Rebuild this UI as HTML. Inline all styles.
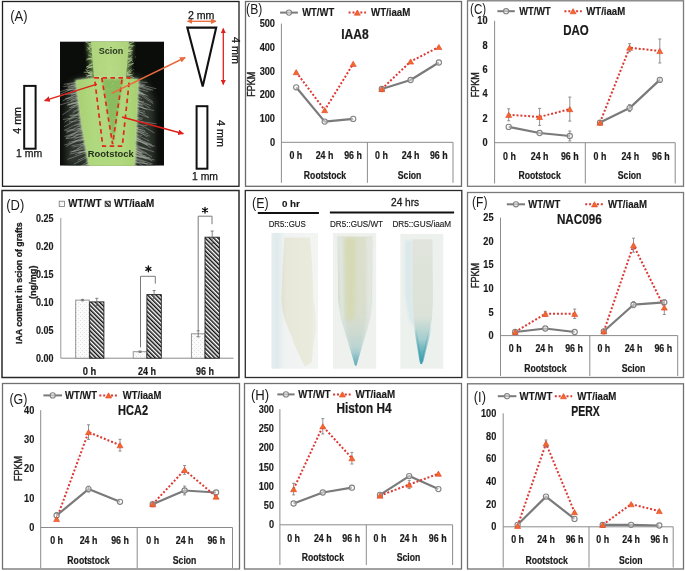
<!DOCTYPE html>
<html><head><meta charset="utf-8"><style>
html,body{margin:0;padding:0;background:#fff;}
body{width:685px;height:571px;overflow:hidden;font-family:"Liberation Sans", sans-serif;}
svg{display:block;will-change:transform;}
</style></head><body>
<svg width="685" height="571" viewBox="0 0 685 571" font-family='"Liberation Sans", sans-serif'>
<rect width="685" height="571" fill="#fff"/>
<rect x="2.5" y="1.5" width="236.5" height="184.8" stroke="#1e1e1e" stroke-width="1.3" fill="none" />
<rect x="245.5" y="1.5" width="216" height="184.8" stroke="#6a6a6a" stroke-width="1.3" fill="none" />
<rect x="467.5" y="0.8" width="216" height="185.5" stroke="#7a7a7a" stroke-width="1.3" fill="none" />
<rect x="2" y="190.5" width="237" height="187" stroke="#2a2a2a" stroke-width="1.5" fill="none" />
<rect x="245.3" y="190.5" width="216.5" height="187" stroke="#2a2a2a" stroke-width="1.3" fill="none" />
<rect x="467.5" y="192.5" width="216" height="185" stroke="#7a7a7a" stroke-width="1.3" fill="none" />
<rect x="2.5" y="383.5" width="237" height="185.5" stroke="#707070" stroke-width="1.3" fill="none" />
<rect x="244.5" y="383.5" width="217" height="185.5" stroke="#707070" stroke-width="1.3" fill="none" />
<rect x="467.5" y="383.8" width="216" height="185.2" stroke="#707070" stroke-width="1.3" fill="none" />
<line x1="281.4" y1="23.6" x2="281.4" y2="182.8" stroke="#8c8c8c" stroke-width="1" />
<line x1="281.4" y1="142.3" x2="453" y2="142.3" stroke="#8a8a8a" stroke-width="1" />
<line x1="367.4" y1="142.3" x2="367.4" y2="182.8" stroke="#8c8c8c" stroke-width="1" />
<line x1="453" y1="142.3" x2="453" y2="182.8" stroke="#8c8c8c" stroke-width="1" />
<text x="275.0" y="145.8" font-size="10" font-weight="bold" text-anchor="end" fill="#1a1a1a" textLength="5.12" lengthAdjust="spacingAndGlyphs"  stroke="#1a1a1a" stroke-width="0.15">0</text>
<text x="275.0" y="122.1" font-size="10" font-weight="bold" text-anchor="end" fill="#1a1a1a" textLength="15.35" lengthAdjust="spacingAndGlyphs"  stroke="#1a1a1a" stroke-width="0.15">100</text>
<text x="275.0" y="98.3" font-size="10" font-weight="bold" text-anchor="end" fill="#1a1a1a" textLength="15.35" lengthAdjust="spacingAndGlyphs"  stroke="#1a1a1a" stroke-width="0.15">200</text>
<text x="275.0" y="74.6" font-size="10" font-weight="bold" text-anchor="end" fill="#1a1a1a" textLength="15.35" lengthAdjust="spacingAndGlyphs"  stroke="#1a1a1a" stroke-width="0.15">300</text>
<text x="275.0" y="50.8" font-size="10" font-weight="bold" text-anchor="end" fill="#1a1a1a" textLength="15.35" lengthAdjust="spacingAndGlyphs"  stroke="#1a1a1a" stroke-width="0.15">400</text>
<text x="275.0" y="27.1" font-size="10" font-weight="bold" text-anchor="end" fill="#1a1a1a" textLength="15.35" lengthAdjust="spacingAndGlyphs"  stroke="#1a1a1a" stroke-width="0.15">500</text>
<text x="295.8" y="159.2" font-size="10.3" font-weight="bold" text-anchor="middle" fill="#1a1a1a" textLength="12.8" lengthAdjust="spacingAndGlyphs"  stroke="#1a1a1a" stroke-width="0.2">0 h</text>
<text x="324.5" y="159.2" font-size="10.3" font-weight="bold" text-anchor="middle" fill="#1a1a1a" textLength="17.72" lengthAdjust="spacingAndGlyphs"  stroke="#1a1a1a" stroke-width="0.2">24 h</text>
<text x="353.0" y="159.2" font-size="10.3" font-weight="bold" text-anchor="middle" fill="#1a1a1a" textLength="17.72" lengthAdjust="spacingAndGlyphs"  stroke="#1a1a1a" stroke-width="0.2">96 h</text>
<text x="381.4" y="159.2" font-size="10.3" font-weight="bold" text-anchor="middle" fill="#1a1a1a" textLength="12.8" lengthAdjust="spacingAndGlyphs"  stroke="#1a1a1a" stroke-width="0.2">0 h</text>
<text x="410.6" y="159.2" font-size="10.3" font-weight="bold" text-anchor="middle" fill="#1a1a1a" textLength="17.72" lengthAdjust="spacingAndGlyphs"  stroke="#1a1a1a" stroke-width="0.2">24 h</text>
<text x="438.8" y="159.2" font-size="10.3" font-weight="bold" text-anchor="middle" fill="#1a1a1a" textLength="17.72" lengthAdjust="spacingAndGlyphs"  stroke="#1a1a1a" stroke-width="0.2">96 h</text>
<text x="325.0" y="179.1" font-size="10.3" font-weight="bold" text-anchor="middle" fill="#1a1a1a" textLength="42.3" lengthAdjust="spacingAndGlyphs"  stroke="#1a1a1a" stroke-width="0.2">Rootstock</text>
<text x="409.6" y="179.1" font-size="10.3" font-weight="bold" text-anchor="middle" fill="#1a1a1a" textLength="23.56" lengthAdjust="spacingAndGlyphs"  stroke="#1a1a1a" stroke-width="0.2">Scion</text>
<text x="354.9" y="38.6" font-size="14" font-weight="bold" text-anchor="middle" fill="#1a1a1a" textLength="27.5" lengthAdjust="spacingAndGlyphs"  stroke="#1a1a1a" stroke-width="0.2">IAA8</text>
<text x="255.0" y="84.3" font-size="10" font-weight="normal" text-anchor="middle" fill="#1a1a1a" textLength="25" lengthAdjust="spacingAndGlyphs" transform="rotate(-90 255.0 84.3)"  stroke="#1a1a1a" stroke-width="0.35">FPKM</text>
<text x="246.1" y="14.0" font-size="14" font-weight="normal" text-anchor="start" fill="#1a1a1a" textLength="16.2" lengthAdjust="spacingAndGlyphs" >(B)</text>
<line x1="280.1" y1="12.6" x2="297.9" y2="12.6" stroke="#7a7a7a" stroke-width="2" />
<circle cx="289.0" cy="12.6" r="2.6" fill="#ffffff" fill-opacity="0.45" stroke="#828282" stroke-width="1.1"/>
<text x="302.2" y="16.1" font-size="10" font-weight="bold" text-anchor="start" fill="#1a1a1a" textLength="32" lengthAdjust="spacingAndGlyphs"  stroke="#1a1a1a" stroke-width="0.15">WT/WT</text>
<line x1="348.6" y1="12.6" x2="366" y2="12.6" stroke="#dc3a34" stroke-width="2" stroke-dasharray="2 1.9"/>
<path d="M354.3 15.2 L357.3 10.0 L360.3 15.2 Z" fill="#f26a2a" stroke="#e0402a" stroke-width="0.6"/>
<text x="371.0" y="16.1" font-size="10" font-weight="bold" text-anchor="start" fill="#1a1a1a" textLength="39.3" lengthAdjust="spacingAndGlyphs"  stroke="#1a1a1a" stroke-width="0.15">WT/iaaM</text>
<polyline points="296.2,87.3 324.7,121.6 353.2,118.9" fill="none" stroke="#7a7a7a" stroke-width="2.2" stroke-linejoin="round"/>
<polyline points="381.8,89 410.6,80 438.9,62.5" fill="none" stroke="#7a7a7a" stroke-width="2.2" stroke-linejoin="round"/>
<polyline points="296.2,72.2 324.7,110.1 353.2,63.8" fill="none" stroke="#dc3a34" stroke-width="2" stroke-dasharray="2 1.9"/>
<polyline points="381.8,89 410.6,61.5 438.9,47" fill="none" stroke="#dc3a34" stroke-width="2" stroke-dasharray="2 1.9"/>
<circle cx="296.2" cy="87.3" r="2.6" fill="#ffffff" fill-opacity="0.45" stroke="#828282" stroke-width="1.1"/>
<circle cx="324.7" cy="121.6" r="2.6" fill="#ffffff" fill-opacity="0.45" stroke="#828282" stroke-width="1.1"/>
<circle cx="353.2" cy="118.9" r="2.6" fill="#ffffff" fill-opacity="0.45" stroke="#828282" stroke-width="1.1"/>
<circle cx="381.8" cy="89" r="2.6" fill="#ffffff" fill-opacity="0.45" stroke="#828282" stroke-width="1.1"/>
<circle cx="410.6" cy="80" r="2.6" fill="#ffffff" fill-opacity="0.45" stroke="#828282" stroke-width="1.1"/>
<circle cx="438.9" cy="62.5" r="2.6" fill="#ffffff" fill-opacity="0.45" stroke="#828282" stroke-width="1.1"/>
<path d="M293.2 74.8 L296.2 69.6 L299.2 74.8 Z" fill="#f26a2a" stroke="#e0402a" stroke-width="0.6"/>
<path d="M321.7 112.7 L324.7 107.5 L327.7 112.7 Z" fill="#f26a2a" stroke="#e0402a" stroke-width="0.6"/>
<path d="M350.2 66.4 L353.2 61.2 L356.2 66.4 Z" fill="#f26a2a" stroke="#e0402a" stroke-width="0.6"/>
<path d="M378.8 91.6 L381.8 86.4 L384.8 91.6 Z" fill="#f26a2a" stroke="#e0402a" stroke-width="0.6"/>
<path d="M407.6 64.1 L410.6 58.9 L413.6 64.1 Z" fill="#f26a2a" stroke="#e0402a" stroke-width="0.6"/>
<path d="M435.9 49.6 L438.9 44.4 L441.9 49.6 Z" fill="#f26a2a" stroke="#e0402a" stroke-width="0.6"/>
<line x1="494.6" y1="20.8" x2="494.6" y2="183.5" stroke="#8c8c8c" stroke-width="1" />
<line x1="494.6" y1="142.7" x2="675.2" y2="142.7" stroke="#8a8a8a" stroke-width="1" />
<line x1="585.3" y1="142.7" x2="585.3" y2="183.5" stroke="#8c8c8c" stroke-width="1" />
<line x1="675.2" y1="142.7" x2="675.2" y2="183.5" stroke="#8c8c8c" stroke-width="1" />
<text x="487.6" y="146.2" font-size="10" font-weight="bold" text-anchor="end" fill="#1a1a1a" textLength="5.12" lengthAdjust="spacingAndGlyphs"  stroke="#1a1a1a" stroke-width="0.15">0</text>
<text x="487.6" y="121.8" font-size="10" font-weight="bold" text-anchor="end" fill="#1a1a1a" textLength="5.12" lengthAdjust="spacingAndGlyphs"  stroke="#1a1a1a" stroke-width="0.15">2</text>
<text x="487.6" y="97.4" font-size="10" font-weight="bold" text-anchor="end" fill="#1a1a1a" textLength="5.12" lengthAdjust="spacingAndGlyphs"  stroke="#1a1a1a" stroke-width="0.15">4</text>
<text x="487.6" y="73.1" font-size="10" font-weight="bold" text-anchor="end" fill="#1a1a1a" textLength="5.12" lengthAdjust="spacingAndGlyphs"  stroke="#1a1a1a" stroke-width="0.15">6</text>
<text x="487.6" y="48.7" font-size="10" font-weight="bold" text-anchor="end" fill="#1a1a1a" textLength="5.12" lengthAdjust="spacingAndGlyphs"  stroke="#1a1a1a" stroke-width="0.15">8</text>
<text x="487.6" y="24.3" font-size="10" font-weight="bold" text-anchor="end" fill="#1a1a1a" textLength="10.23" lengthAdjust="spacingAndGlyphs"  stroke="#1a1a1a" stroke-width="0.15">10</text>
<text x="509.5" y="159.8" font-size="10.3" font-weight="bold" text-anchor="middle" fill="#1a1a1a" textLength="12.8" lengthAdjust="spacingAndGlyphs"  stroke="#1a1a1a" stroke-width="0.2">0 h</text>
<text x="539.6" y="159.8" font-size="10.3" font-weight="bold" text-anchor="middle" fill="#1a1a1a" textLength="17.72" lengthAdjust="spacingAndGlyphs"  stroke="#1a1a1a" stroke-width="0.2">24 h</text>
<text x="569.8" y="159.8" font-size="10.3" font-weight="bold" text-anchor="middle" fill="#1a1a1a" textLength="17.72" lengthAdjust="spacingAndGlyphs"  stroke="#1a1a1a" stroke-width="0.2">96 h</text>
<text x="600.0" y="159.8" font-size="10.3" font-weight="bold" text-anchor="middle" fill="#1a1a1a" textLength="12.8" lengthAdjust="spacingAndGlyphs"  stroke="#1a1a1a" stroke-width="0.2">0 h</text>
<text x="630.3" y="159.8" font-size="10.3" font-weight="bold" text-anchor="middle" fill="#1a1a1a" textLength="17.72" lengthAdjust="spacingAndGlyphs"  stroke="#1a1a1a" stroke-width="0.2">24 h</text>
<text x="660.9" y="159.8" font-size="10.3" font-weight="bold" text-anchor="middle" fill="#1a1a1a" textLength="17.72" lengthAdjust="spacingAndGlyphs"  stroke="#1a1a1a" stroke-width="0.2">96 h</text>
<text x="539.6" y="179.1" font-size="10.3" font-weight="bold" text-anchor="middle" fill="#1a1a1a" textLength="42.3" lengthAdjust="spacingAndGlyphs"  stroke="#1a1a1a" stroke-width="0.2">Rootstock</text>
<text x="629.6" y="179.1" font-size="10.3" font-weight="bold" text-anchor="middle" fill="#1a1a1a" textLength="23.56" lengthAdjust="spacingAndGlyphs"  stroke="#1a1a1a" stroke-width="0.2">Scion</text>
<text x="575.9" y="34.5" font-size="14" font-weight="bold" text-anchor="middle" fill="#1a1a1a" textLength="25.5" lengthAdjust="spacingAndGlyphs"  stroke="#1a1a1a" stroke-width="0.2">DAO</text>
<text x="479.2" y="84.8" font-size="10" font-weight="normal" text-anchor="middle" fill="#1a1a1a" textLength="25" lengthAdjust="spacingAndGlyphs" transform="rotate(-90 479.2 84.8)"  stroke="#1a1a1a" stroke-width="0.35">FPKM</text>
<text x="470.1" y="14.0" font-size="14" font-weight="normal" text-anchor="start" fill="#1a1a1a" textLength="16.1" lengthAdjust="spacingAndGlyphs" >(C)</text>
<line x1="497.4" y1="11.2" x2="514.8" y2="11.2" stroke="#7a7a7a" stroke-width="2" />
<circle cx="506.09999999999997" cy="11.2" r="2.6" fill="#ffffff" fill-opacity="0.45" stroke="#828282" stroke-width="1.1"/>
<text x="519.3" y="14.7" font-size="10" font-weight="bold" text-anchor="start" fill="#1a1a1a" textLength="31.5" lengthAdjust="spacingAndGlyphs"  stroke="#1a1a1a" stroke-width="0.15">WT/WT</text>
<line x1="564.4" y1="11.2" x2="581.8" y2="11.2" stroke="#dc3a34" stroke-width="2" stroke-dasharray="2 1.9"/>
<path d="M570.1 13.8 L573.1 8.6 L576.1 13.8 Z" fill="#f26a2a" stroke="#e0402a" stroke-width="0.6"/>
<text x="586.3" y="14.7" font-size="10" font-weight="bold" text-anchor="start" fill="#1a1a1a" textLength="38.9" lengthAdjust="spacingAndGlyphs"  stroke="#1a1a1a" stroke-width="0.15">WT/iaaM</text>
<polyline points="508.7,126.9 539.6,133 569.8,136" fill="none" stroke="#7a7a7a" stroke-width="2.2" stroke-linejoin="round"/>
<polyline points="600,122.6 629.6,108.1 659.8,79.9" fill="none" stroke="#7a7a7a" stroke-width="2.2" stroke-linejoin="round"/>
<polyline points="508.7,114.8 539.6,116.9 569.8,109.1" fill="none" stroke="#dc3a34" stroke-width="2" stroke-dasharray="2 1.9"/>
<polyline points="600,122.6 629.6,47.7 659.8,51" fill="none" stroke="#dc3a34" stroke-width="2" stroke-dasharray="2 1.9"/>
<line x1="569.8" y1="131" x2="569.8" y2="141" stroke="#777" stroke-width="0.8" />
<line x1="568.3" y1="131" x2="571.3" y2="131" stroke="#777" stroke-width="0.8" />
<line x1="568.3" y1="141" x2="571.3" y2="141" stroke="#777" stroke-width="0.8" />
<line x1="629.6" y1="104.6" x2="629.6" y2="111.6" stroke="#777" stroke-width="0.8" />
<line x1="628.1" y1="104.6" x2="631.1" y2="104.6" stroke="#777" stroke-width="0.8" />
<line x1="628.1" y1="111.6" x2="631.1" y2="111.6" stroke="#777" stroke-width="0.8" />
<line x1="659.8" y1="77.9" x2="659.8" y2="81.9" stroke="#777" stroke-width="0.8" />
<line x1="658.3" y1="77.9" x2="661.3" y2="77.9" stroke="#777" stroke-width="0.8" />
<line x1="658.3" y1="81.9" x2="661.3" y2="81.9" stroke="#777" stroke-width="0.8" />
<line x1="508.7" y1="108.8" x2="508.7" y2="120.8" stroke="#777" stroke-width="0.8" />
<line x1="507.2" y1="108.8" x2="510.2" y2="108.8" stroke="#777" stroke-width="0.8" />
<line x1="507.2" y1="120.8" x2="510.2" y2="120.8" stroke="#777" stroke-width="0.8" />
<line x1="539.6" y1="108.4" x2="539.6" y2="125.4" stroke="#777" stroke-width="0.8" />
<line x1="538.1" y1="108.4" x2="541.1" y2="108.4" stroke="#777" stroke-width="0.8" />
<line x1="538.1" y1="125.4" x2="541.1" y2="125.4" stroke="#777" stroke-width="0.8" />
<line x1="569.8" y1="97.1" x2="569.8" y2="121.1" stroke="#777" stroke-width="0.8" />
<line x1="568.3" y1="97.1" x2="571.3" y2="97.1" stroke="#777" stroke-width="0.8" />
<line x1="568.3" y1="121.1" x2="571.3" y2="121.1" stroke="#777" stroke-width="0.8" />
<line x1="629.6" y1="43.7" x2="629.6" y2="51.7" stroke="#777" stroke-width="0.8" />
<line x1="628.1" y1="43.7" x2="631.1" y2="43.7" stroke="#777" stroke-width="0.8" />
<line x1="628.1" y1="51.7" x2="631.1" y2="51.7" stroke="#777" stroke-width="0.8" />
<line x1="659.8" y1="39" x2="659.8" y2="63" stroke="#777" stroke-width="0.8" />
<line x1="658.3" y1="39" x2="661.3" y2="39" stroke="#777" stroke-width="0.8" />
<line x1="658.3" y1="63" x2="661.3" y2="63" stroke="#777" stroke-width="0.8" />
<circle cx="508.7" cy="126.9" r="2.6" fill="#ffffff" fill-opacity="0.45" stroke="#828282" stroke-width="1.1"/>
<circle cx="539.6" cy="133" r="2.6" fill="#ffffff" fill-opacity="0.45" stroke="#828282" stroke-width="1.1"/>
<circle cx="569.8" cy="136" r="2.6" fill="#ffffff" fill-opacity="0.45" stroke="#828282" stroke-width="1.1"/>
<circle cx="600" cy="122.6" r="2.6" fill="#ffffff" fill-opacity="0.45" stroke="#828282" stroke-width="1.1"/>
<circle cx="629.6" cy="108.1" r="2.6" fill="#ffffff" fill-opacity="0.45" stroke="#828282" stroke-width="1.1"/>
<circle cx="659.8" cy="79.9" r="2.6" fill="#ffffff" fill-opacity="0.45" stroke="#828282" stroke-width="1.1"/>
<path d="M505.7 117.4 L508.7 112.2 L511.7 117.4 Z" fill="#f26a2a" stroke="#e0402a" stroke-width="0.6"/>
<path d="M536.6 119.5 L539.6 114.3 L542.6 119.5 Z" fill="#f26a2a" stroke="#e0402a" stroke-width="0.6"/>
<path d="M566.8 111.7 L569.8 106.5 L572.8 111.7 Z" fill="#f26a2a" stroke="#e0402a" stroke-width="0.6"/>
<path d="M597.0 125.2 L600.0 120.0 L603.0 125.2 Z" fill="#f26a2a" stroke="#e0402a" stroke-width="0.6"/>
<path d="M626.6 50.3 L629.6 45.1 L632.6 50.3 Z" fill="#f26a2a" stroke="#e0402a" stroke-width="0.6"/>
<path d="M656.8 53.6 L659.8 48.4 L662.8 53.6 Z" fill="#f26a2a" stroke="#e0402a" stroke-width="0.6"/>
<line x1="500.5" y1="217.6" x2="500.5" y2="376" stroke="#8c8c8c" stroke-width="1" />
<line x1="500.5" y1="335.6" x2="677.7" y2="335.6" stroke="#8a8a8a" stroke-width="1" />
<line x1="589.8" y1="335.6" x2="589.8" y2="376" stroke="#8c8c8c" stroke-width="1" />
<line x1="677.7" y1="335.6" x2="677.7" y2="376" stroke="#8c8c8c" stroke-width="1" />
<text x="493.5" y="339.1" font-size="10" font-weight="bold" text-anchor="end" fill="#1a1a1a" textLength="5.12" lengthAdjust="spacingAndGlyphs"  stroke="#1a1a1a" stroke-width="0.15">0</text>
<text x="493.5" y="315.5" font-size="10" font-weight="bold" text-anchor="end" fill="#1a1a1a" textLength="5.12" lengthAdjust="spacingAndGlyphs"  stroke="#1a1a1a" stroke-width="0.15">5</text>
<text x="493.5" y="291.9" font-size="10" font-weight="bold" text-anchor="end" fill="#1a1a1a" textLength="10.23" lengthAdjust="spacingAndGlyphs"  stroke="#1a1a1a" stroke-width="0.15">10</text>
<text x="493.5" y="268.3" font-size="10" font-weight="bold" text-anchor="end" fill="#1a1a1a" textLength="10.23" lengthAdjust="spacingAndGlyphs"  stroke="#1a1a1a" stroke-width="0.15">15</text>
<text x="493.5" y="244.7" font-size="10" font-weight="bold" text-anchor="end" fill="#1a1a1a" textLength="10.23" lengthAdjust="spacingAndGlyphs"  stroke="#1a1a1a" stroke-width="0.15">20</text>
<text x="493.5" y="221.1" font-size="10" font-weight="bold" text-anchor="end" fill="#1a1a1a" textLength="10.23" lengthAdjust="spacingAndGlyphs"  stroke="#1a1a1a" stroke-width="0.15">25</text>
<text x="515.2" y="352.2" font-size="10.3" font-weight="bold" text-anchor="middle" fill="#1a1a1a" textLength="12.8" lengthAdjust="spacingAndGlyphs"  stroke="#1a1a1a" stroke-width="0.2">0 h</text>
<text x="544.3" y="352.2" font-size="10.3" font-weight="bold" text-anchor="middle" fill="#1a1a1a" textLength="17.72" lengthAdjust="spacingAndGlyphs"  stroke="#1a1a1a" stroke-width="0.2">24 h</text>
<text x="574.0" y="352.2" font-size="10.3" font-weight="bold" text-anchor="middle" fill="#1a1a1a" textLength="17.72" lengthAdjust="spacingAndGlyphs"  stroke="#1a1a1a" stroke-width="0.2">96 h</text>
<text x="603.8" y="352.2" font-size="10.3" font-weight="bold" text-anchor="middle" fill="#1a1a1a" textLength="12.8" lengthAdjust="spacingAndGlyphs"  stroke="#1a1a1a" stroke-width="0.2">0 h</text>
<text x="633.5" y="352.2" font-size="10.3" font-weight="bold" text-anchor="middle" fill="#1a1a1a" textLength="17.72" lengthAdjust="spacingAndGlyphs"  stroke="#1a1a1a" stroke-width="0.2">24 h</text>
<text x="663.3" y="352.2" font-size="10.3" font-weight="bold" text-anchor="middle" fill="#1a1a1a" textLength="17.72" lengthAdjust="spacingAndGlyphs"  stroke="#1a1a1a" stroke-width="0.2">96 h</text>
<text x="545.3" y="371.5" font-size="10.3" font-weight="bold" text-anchor="middle" fill="#1a1a1a" textLength="42.3" lengthAdjust="spacingAndGlyphs"  stroke="#1a1a1a" stroke-width="0.2">Rootstock</text>
<text x="633.5" y="371.5" font-size="10.3" font-weight="bold" text-anchor="middle" fill="#1a1a1a" textLength="23.56" lengthAdjust="spacingAndGlyphs"  stroke="#1a1a1a" stroke-width="0.2">Scion</text>
<text x="579.3" y="224.3" font-size="14" font-weight="bold" text-anchor="middle" fill="#1a1a1a" textLength="44.8" lengthAdjust="spacingAndGlyphs"  stroke="#1a1a1a" stroke-width="0.2">NAC096</text>
<text x="479.5" y="275.4" font-size="10" font-weight="normal" text-anchor="middle" fill="#1a1a1a" textLength="25" lengthAdjust="spacingAndGlyphs" transform="rotate(-90 479.5 275.4)"  stroke="#1a1a1a" stroke-width="0.35">FPKM</text>
<text x="472.1" y="207.0" font-size="14" font-weight="normal" text-anchor="start" fill="#1a1a1a" textLength="15.4" lengthAdjust="spacingAndGlyphs" >(F)</text>
<line x1="506.8" y1="204.3" x2="525" y2="204.3" stroke="#7a7a7a" stroke-width="2" />
<circle cx="515.9" cy="204.3" r="2.6" fill="#ffffff" fill-opacity="0.45" stroke="#828282" stroke-width="1.1"/>
<text x="528.2" y="207.8" font-size="10" font-weight="bold" text-anchor="start" fill="#1a1a1a" textLength="32.2" lengthAdjust="spacingAndGlyphs"  stroke="#1a1a1a" stroke-width="0.15">WT/WT</text>
<line x1="585.2" y1="204.3" x2="603.8" y2="204.3" stroke="#dc3a34" stroke-width="2" stroke-dasharray="2 1.9"/>
<path d="M591.5 206.9 L594.5 201.7 L597.5 206.9 Z" fill="#f26a2a" stroke="#e0402a" stroke-width="0.6"/>
<text x="607.9" y="207.8" font-size="10" font-weight="bold" text-anchor="start" fill="#1a1a1a" textLength="39" lengthAdjust="spacingAndGlyphs"  stroke="#1a1a1a" stroke-width="0.15">WT/iaaM</text>
<polyline points="515.2,332 545.3,328.5 574.7,332" fill="none" stroke="#7a7a7a" stroke-width="2.2" stroke-linejoin="round"/>
<polyline points="603.8,331.3 633.5,304.7 664.3,302.3" fill="none" stroke="#7a7a7a" stroke-width="2.2" stroke-linejoin="round"/>
<polyline points="515.2,332 545.3,313.8 574.7,313.8" fill="none" stroke="#dc3a34" stroke-width="2" stroke-dasharray="2 1.9"/>
<polyline points="603.8,331.3 633.5,245.2 664.3,307.5" fill="none" stroke="#dc3a34" stroke-width="2" stroke-dasharray="2 1.9"/>
<line x1="633.5" y1="301.7" x2="633.5" y2="307.7" stroke="#777" stroke-width="0.8" />
<line x1="632.0" y1="301.7" x2="635.0" y2="301.7" stroke="#777" stroke-width="0.8" />
<line x1="632.0" y1="307.7" x2="635.0" y2="307.7" stroke="#777" stroke-width="0.8" />
<line x1="664.3" y1="299.8" x2="664.3" y2="304.8" stroke="#777" stroke-width="0.8" />
<line x1="662.8" y1="299.8" x2="665.8" y2="299.8" stroke="#777" stroke-width="0.8" />
<line x1="662.8" y1="304.8" x2="665.8" y2="304.8" stroke="#777" stroke-width="0.8" />
<line x1="545.3" y1="311.3" x2="545.3" y2="316.3" stroke="#777" stroke-width="0.8" />
<line x1="543.8" y1="311.3" x2="546.8" y2="311.3" stroke="#777" stroke-width="0.8" />
<line x1="543.8" y1="316.3" x2="546.8" y2="316.3" stroke="#777" stroke-width="0.8" />
<line x1="574.7" y1="309.1" x2="574.7" y2="318.5" stroke="#777" stroke-width="0.8" />
<line x1="573.2" y1="309.1" x2="576.2" y2="309.1" stroke="#777" stroke-width="0.8" />
<line x1="573.2" y1="318.5" x2="576.2" y2="318.5" stroke="#777" stroke-width="0.8" />
<line x1="633.5" y1="238.2" x2="633.5" y2="252.2" stroke="#777" stroke-width="0.8" />
<line x1="632.0" y1="238.2" x2="635.0" y2="238.2" stroke="#777" stroke-width="0.8" />
<line x1="632.0" y1="252.2" x2="635.0" y2="252.2" stroke="#777" stroke-width="0.8" />
<line x1="664.3" y1="300.5" x2="664.3" y2="314.5" stroke="#777" stroke-width="0.8" />
<line x1="662.8" y1="300.5" x2="665.8" y2="300.5" stroke="#777" stroke-width="0.8" />
<line x1="662.8" y1="314.5" x2="665.8" y2="314.5" stroke="#777" stroke-width="0.8" />
<circle cx="515.2" cy="332" r="2.6" fill="#ffffff" fill-opacity="0.45" stroke="#828282" stroke-width="1.1"/>
<circle cx="545.3" cy="328.5" r="2.6" fill="#ffffff" fill-opacity="0.45" stroke="#828282" stroke-width="1.1"/>
<circle cx="574.7" cy="332" r="2.6" fill="#ffffff" fill-opacity="0.45" stroke="#828282" stroke-width="1.1"/>
<circle cx="603.8" cy="331.3" r="2.6" fill="#ffffff" fill-opacity="0.45" stroke="#828282" stroke-width="1.1"/>
<circle cx="633.5" cy="304.7" r="2.6" fill="#ffffff" fill-opacity="0.45" stroke="#828282" stroke-width="1.1"/>
<circle cx="664.3" cy="302.3" r="2.6" fill="#ffffff" fill-opacity="0.45" stroke="#828282" stroke-width="1.1"/>
<path d="M512.2 334.6 L515.2 329.4 L518.2 334.6 Z" fill="#f26a2a" stroke="#e0402a" stroke-width="0.6"/>
<path d="M542.3 316.4 L545.3 311.2 L548.3 316.4 Z" fill="#f26a2a" stroke="#e0402a" stroke-width="0.6"/>
<path d="M571.7 316.4 L574.7 311.2 L577.7 316.4 Z" fill="#f26a2a" stroke="#e0402a" stroke-width="0.6"/>
<path d="M600.8 333.9 L603.8 328.7 L606.8 333.9 Z" fill="#f26a2a" stroke="#e0402a" stroke-width="0.6"/>
<path d="M630.5 247.8 L633.5 242.6 L636.5 247.8 Z" fill="#f26a2a" stroke="#e0402a" stroke-width="0.6"/>
<path d="M661.3 310.1 L664.3 304.9 L667.3 310.1 Z" fill="#f26a2a" stroke="#e0402a" stroke-width="0.6"/>
<line x1="40.7" y1="410.2" x2="40.7" y2="568" stroke="#8c8c8c" stroke-width="1" />
<line x1="40.7" y1="527.5" x2="232.5" y2="527.5" stroke="#8a8a8a" stroke-width="1" />
<line x1="137.2" y1="527.5" x2="137.2" y2="568" stroke="#8c8c8c" stroke-width="1" />
<line x1="232.5" y1="527.5" x2="232.5" y2="568" stroke="#8c8c8c" stroke-width="1" />
<text x="34.3" y="531.0" font-size="10" font-weight="bold" text-anchor="end" fill="#1a1a1a" textLength="5.12" lengthAdjust="spacingAndGlyphs"  stroke="#1a1a1a" stroke-width="0.15">0</text>
<text x="34.3" y="501.7" font-size="10" font-weight="bold" text-anchor="end" fill="#1a1a1a" textLength="10.23" lengthAdjust="spacingAndGlyphs"  stroke="#1a1a1a" stroke-width="0.15">10</text>
<text x="34.3" y="472.4" font-size="10" font-weight="bold" text-anchor="end" fill="#1a1a1a" textLength="10.23" lengthAdjust="spacingAndGlyphs"  stroke="#1a1a1a" stroke-width="0.15">20</text>
<text x="34.3" y="443.0" font-size="10" font-weight="bold" text-anchor="end" fill="#1a1a1a" textLength="10.23" lengthAdjust="spacingAndGlyphs"  stroke="#1a1a1a" stroke-width="0.15">30</text>
<text x="34.3" y="413.7" font-size="10" font-weight="bold" text-anchor="end" fill="#1a1a1a" textLength="10.23" lengthAdjust="spacingAndGlyphs"  stroke="#1a1a1a" stroke-width="0.15">40</text>
<text x="56.6" y="544.2" font-size="10.3" font-weight="bold" text-anchor="middle" fill="#1a1a1a" textLength="12.8" lengthAdjust="spacingAndGlyphs"  stroke="#1a1a1a" stroke-width="0.2">0 h</text>
<text x="88.5" y="544.2" font-size="10.3" font-weight="bold" text-anchor="middle" fill="#1a1a1a" textLength="17.72" lengthAdjust="spacingAndGlyphs"  stroke="#1a1a1a" stroke-width="0.2">24 h</text>
<text x="120.0" y="544.2" font-size="10.3" font-weight="bold" text-anchor="middle" fill="#1a1a1a" textLength="17.72" lengthAdjust="spacingAndGlyphs"  stroke="#1a1a1a" stroke-width="0.2">96 h</text>
<text x="152.7" y="544.2" font-size="10.3" font-weight="bold" text-anchor="middle" fill="#1a1a1a" textLength="12.8" lengthAdjust="spacingAndGlyphs"  stroke="#1a1a1a" stroke-width="0.2">0 h</text>
<text x="184.6" y="544.2" font-size="10.3" font-weight="bold" text-anchor="middle" fill="#1a1a1a" textLength="17.72" lengthAdjust="spacingAndGlyphs"  stroke="#1a1a1a" stroke-width="0.2">24 h</text>
<text x="216.3" y="544.2" font-size="10.3" font-weight="bold" text-anchor="middle" fill="#1a1a1a" textLength="17.72" lengthAdjust="spacingAndGlyphs"  stroke="#1a1a1a" stroke-width="0.2">96 h</text>
<text x="88.5" y="563.5" font-size="10.3" font-weight="bold" text-anchor="middle" fill="#1a1a1a" textLength="42.3" lengthAdjust="spacingAndGlyphs"  stroke="#1a1a1a" stroke-width="0.2">Rootstock</text>
<text x="184.6" y="563.5" font-size="10.3" font-weight="bold" text-anchor="middle" fill="#1a1a1a" textLength="23.56" lengthAdjust="spacingAndGlyphs"  stroke="#1a1a1a" stroke-width="0.2">Scion</text>
<text x="133.1" y="415.2" font-size="14" font-weight="bold" text-anchor="middle" fill="#1a1a1a" textLength="30" lengthAdjust="spacingAndGlyphs"  stroke="#1a1a1a" stroke-width="0.2">HCA2</text>
<text x="22.0" y="468.6" font-size="10" font-weight="normal" text-anchor="middle" fill="#1a1a1a" textLength="25" lengthAdjust="spacingAndGlyphs" transform="rotate(-90 22.0 468.6)"  stroke="#1a1a1a" stroke-width="0.35">FPKM</text>
<text x="9.4" y="403.8" font-size="14" font-weight="normal" text-anchor="start" fill="#1a1a1a" textLength="18" lengthAdjust="spacingAndGlyphs" >(G)</text>
<line x1="43.4" y1="395.4" x2="62" y2="395.4" stroke="#7a7a7a" stroke-width="2" />
<circle cx="52.7" cy="395.4" r="2.6" fill="#ffffff" fill-opacity="0.45" stroke="#828282" stroke-width="1.1"/>
<text x="65.0" y="398.9" font-size="10" font-weight="bold" text-anchor="start" fill="#1a1a1a" textLength="32" lengthAdjust="spacingAndGlyphs"  stroke="#1a1a1a" stroke-width="0.15">WT/WT</text>
<line x1="99.3" y1="395.4" x2="117.9" y2="395.4" stroke="#dc3a34" stroke-width="2" stroke-dasharray="2 1.9"/>
<path d="M105.6 398.0 L108.6 392.8 L111.6 398.0 Z" fill="#f26a2a" stroke="#e0402a" stroke-width="0.6"/>
<text x="122.8" y="398.9" font-size="10" font-weight="bold" text-anchor="start" fill="#1a1a1a" textLength="38.5" lengthAdjust="spacingAndGlyphs"  stroke="#1a1a1a" stroke-width="0.15">WT/iaaM</text>
<polyline points="56.6,515.5 88.5,489.1 120,501.8" fill="none" stroke="#7a7a7a" stroke-width="2.2" stroke-linejoin="round"/>
<polyline points="152.7,504.2 184.6,490.5 216.1,492.5" fill="none" stroke="#7a7a7a" stroke-width="2.2" stroke-linejoin="round"/>
<polyline points="56.6,519 88.5,432.1 120,445.2" fill="none" stroke="#dc3a34" stroke-width="2" stroke-dasharray="2 1.9"/>
<polyline points="152.7,504.2 184.6,469.9 216.1,496.6" fill="none" stroke="#dc3a34" stroke-width="2" stroke-dasharray="2 1.9"/>
<line x1="56.6" y1="512.6" x2="56.6" y2="518.4" stroke="#777" stroke-width="0.8" />
<line x1="55.1" y1="512.6" x2="58.1" y2="512.6" stroke="#777" stroke-width="0.8" />
<line x1="55.1" y1="518.4" x2="58.1" y2="518.4" stroke="#777" stroke-width="0.8" />
<line x1="88.5" y1="486.20000000000005" x2="88.5" y2="492.0" stroke="#777" stroke-width="0.8" />
<line x1="87.0" y1="486.20000000000005" x2="90.0" y2="486.20000000000005" stroke="#777" stroke-width="0.8" />
<line x1="87.0" y1="492.0" x2="90.0" y2="492.0" stroke="#777" stroke-width="0.8" />
<line x1="184.6" y1="486.1" x2="184.6" y2="494.9" stroke="#777" stroke-width="0.8" />
<line x1="183.1" y1="486.1" x2="186.1" y2="486.1" stroke="#777" stroke-width="0.8" />
<line x1="183.1" y1="494.9" x2="186.1" y2="494.9" stroke="#777" stroke-width="0.8" />
<line x1="88.5" y1="424.8" x2="88.5" y2="439.40000000000003" stroke="#777" stroke-width="0.8" />
<line x1="87.0" y1="424.8" x2="90.0" y2="424.8" stroke="#777" stroke-width="0.8" />
<line x1="87.0" y1="439.40000000000003" x2="90.0" y2="439.40000000000003" stroke="#777" stroke-width="0.8" />
<line x1="120" y1="439.3" x2="120" y2="451.09999999999997" stroke="#777" stroke-width="0.8" />
<line x1="118.5" y1="439.3" x2="121.5" y2="439.3" stroke="#777" stroke-width="0.8" />
<line x1="118.5" y1="451.09999999999997" x2="121.5" y2="451.09999999999997" stroke="#777" stroke-width="0.8" />
<line x1="184.6" y1="465.5" x2="184.6" y2="474.29999999999995" stroke="#777" stroke-width="0.8" />
<line x1="183.1" y1="465.5" x2="186.1" y2="465.5" stroke="#777" stroke-width="0.8" />
<line x1="183.1" y1="474.29999999999995" x2="186.1" y2="474.29999999999995" stroke="#777" stroke-width="0.8" />
<line x1="216.1" y1="495.1" x2="216.1" y2="498.1" stroke="#777" stroke-width="0.8" />
<line x1="214.6" y1="495.1" x2="217.6" y2="495.1" stroke="#777" stroke-width="0.8" />
<line x1="214.6" y1="498.1" x2="217.6" y2="498.1" stroke="#777" stroke-width="0.8" />
<circle cx="56.6" cy="515.5" r="2.6" fill="#ffffff" fill-opacity="0.45" stroke="#828282" stroke-width="1.1"/>
<circle cx="88.5" cy="489.1" r="2.6" fill="#ffffff" fill-opacity="0.45" stroke="#828282" stroke-width="1.1"/>
<circle cx="120" cy="501.8" r="2.6" fill="#ffffff" fill-opacity="0.45" stroke="#828282" stroke-width="1.1"/>
<circle cx="152.7" cy="504.2" r="2.6" fill="#ffffff" fill-opacity="0.45" stroke="#828282" stroke-width="1.1"/>
<circle cx="184.6" cy="490.5" r="2.6" fill="#ffffff" fill-opacity="0.45" stroke="#828282" stroke-width="1.1"/>
<circle cx="216.1" cy="492.5" r="2.6" fill="#ffffff" fill-opacity="0.45" stroke="#828282" stroke-width="1.1"/>
<path d="M53.6 521.6 L56.6 516.4 L59.6 521.6 Z" fill="#f26a2a" stroke="#e0402a" stroke-width="0.6"/>
<path d="M85.5 434.7 L88.5 429.5 L91.5 434.7 Z" fill="#f26a2a" stroke="#e0402a" stroke-width="0.6"/>
<path d="M117.0 447.8 L120.0 442.6 L123.0 447.8 Z" fill="#f26a2a" stroke="#e0402a" stroke-width="0.6"/>
<path d="M149.7 506.8 L152.7 501.6 L155.7 506.8 Z" fill="#f26a2a" stroke="#e0402a" stroke-width="0.6"/>
<path d="M181.6 472.5 L184.6 467.3 L187.6 472.5 Z" fill="#f26a2a" stroke="#e0402a" stroke-width="0.6"/>
<path d="M213.1 499.2 L216.1 494.0 L219.1 499.2 Z" fill="#f26a2a" stroke="#e0402a" stroke-width="0.6"/>
<line x1="279.9" y1="409.2" x2="279.9" y2="565" stroke="#8c8c8c" stroke-width="1" />
<line x1="279.9" y1="524.8" x2="452.6" y2="524.8" stroke="#8a8a8a" stroke-width="1" />
<line x1="366.3" y1="524.8" x2="366.3" y2="565" stroke="#8c8c8c" stroke-width="1" />
<line x1="452.6" y1="524.8" x2="452.6" y2="565" stroke="#8c8c8c" stroke-width="1" />
<text x="274.0" y="528.3" font-size="10" font-weight="bold" text-anchor="end" fill="#1a1a1a" textLength="5.12" lengthAdjust="spacingAndGlyphs"  stroke="#1a1a1a" stroke-width="0.15">0</text>
<text x="274.0" y="509.0" font-size="10" font-weight="bold" text-anchor="end" fill="#1a1a1a" textLength="10.23" lengthAdjust="spacingAndGlyphs"  stroke="#1a1a1a" stroke-width="0.15">50</text>
<text x="274.0" y="489.8" font-size="10" font-weight="bold" text-anchor="end" fill="#1a1a1a" textLength="15.35" lengthAdjust="spacingAndGlyphs"  stroke="#1a1a1a" stroke-width="0.15">100</text>
<text x="274.0" y="470.5" font-size="10" font-weight="bold" text-anchor="end" fill="#1a1a1a" textLength="15.35" lengthAdjust="spacingAndGlyphs"  stroke="#1a1a1a" stroke-width="0.15">150</text>
<text x="274.0" y="451.2" font-size="10" font-weight="bold" text-anchor="end" fill="#1a1a1a" textLength="15.35" lengthAdjust="spacingAndGlyphs"  stroke="#1a1a1a" stroke-width="0.15">200</text>
<text x="274.0" y="432.0" font-size="10" font-weight="bold" text-anchor="end" fill="#1a1a1a" textLength="15.35" lengthAdjust="spacingAndGlyphs"  stroke="#1a1a1a" stroke-width="0.15">250</text>
<text x="274.0" y="412.7" font-size="10" font-weight="bold" text-anchor="end" fill="#1a1a1a" textLength="15.35" lengthAdjust="spacingAndGlyphs"  stroke="#1a1a1a" stroke-width="0.15">300</text>
<text x="293.6" y="541.5" font-size="10.3" font-weight="bold" text-anchor="middle" fill="#1a1a1a" textLength="12.8" lengthAdjust="spacingAndGlyphs"  stroke="#1a1a1a" stroke-width="0.2">0 h</text>
<text x="322.8" y="541.5" font-size="10.3" font-weight="bold" text-anchor="middle" fill="#1a1a1a" textLength="17.72" lengthAdjust="spacingAndGlyphs"  stroke="#1a1a1a" stroke-width="0.2">24 h</text>
<text x="351.2" y="541.5" font-size="10.3" font-weight="bold" text-anchor="middle" fill="#1a1a1a" textLength="17.72" lengthAdjust="spacingAndGlyphs"  stroke="#1a1a1a" stroke-width="0.2">96 h</text>
<text x="380.0" y="541.5" font-size="10.3" font-weight="bold" text-anchor="middle" fill="#1a1a1a" textLength="12.8" lengthAdjust="spacingAndGlyphs"  stroke="#1a1a1a" stroke-width="0.2">0 h</text>
<text x="408.5" y="541.5" font-size="10.3" font-weight="bold" text-anchor="middle" fill="#1a1a1a" textLength="17.72" lengthAdjust="spacingAndGlyphs"  stroke="#1a1a1a" stroke-width="0.2">24 h</text>
<text x="437.7" y="541.5" font-size="10.3" font-weight="bold" text-anchor="middle" fill="#1a1a1a" textLength="17.72" lengthAdjust="spacingAndGlyphs"  stroke="#1a1a1a" stroke-width="0.2">96 h</text>
<text x="322.8" y="561.2" font-size="10.3" font-weight="bold" text-anchor="middle" fill="#1a1a1a" textLength="42.3" lengthAdjust="spacingAndGlyphs"  stroke="#1a1a1a" stroke-width="0.2">Rootstock</text>
<text x="408.5" y="561.2" font-size="10.3" font-weight="bold" text-anchor="middle" fill="#1a1a1a" textLength="23.56" lengthAdjust="spacingAndGlyphs"  stroke="#1a1a1a" stroke-width="0.2">Scion</text>
<text x="364.0" y="412.5" font-size="14" font-weight="bold" text-anchor="middle" fill="#1a1a1a" textLength="55" lengthAdjust="spacingAndGlyphs"  stroke="#1a1a1a" stroke-width="0.2">Histon H4</text>
<text x="-96.4" y="-100.0" font-size="10" font-weight="normal" text-anchor="middle" fill="#1a1a1a" textLength="25" lengthAdjust="spacingAndGlyphs" transform="rotate(-90 -96.4 -100.0)"  stroke="#1a1a1a" stroke-width="0.35">FPKM</text>
<text x="250.9" y="399.8" font-size="14" font-weight="normal" text-anchor="start" fill="#1a1a1a" textLength="18.2" lengthAdjust="spacingAndGlyphs" >(H)</text>
<line x1="277.3" y1="394.4" x2="294.6" y2="394.4" stroke="#7a7a7a" stroke-width="2" />
<circle cx="285.95000000000005" cy="394.4" r="2.6" fill="#ffffff" fill-opacity="0.45" stroke="#828282" stroke-width="1.1"/>
<text x="298.3" y="397.9" font-size="10" font-weight="bold" text-anchor="start" fill="#1a1a1a" textLength="32.3" lengthAdjust="spacingAndGlyphs"  stroke="#1a1a1a" stroke-width="0.15">WT/WT</text>
<line x1="333.1" y1="394.4" x2="351.7" y2="394.4" stroke="#dc3a34" stroke-width="2" stroke-dasharray="2 1.9"/>
<path d="M339.4 397.0 L342.4 391.8 L345.4 397.0 Z" fill="#f26a2a" stroke="#e0402a" stroke-width="0.6"/>
<text x="355.4" y="397.9" font-size="10" font-weight="bold" text-anchor="start" fill="#1a1a1a" textLength="39.7" lengthAdjust="spacingAndGlyphs"  stroke="#1a1a1a" stroke-width="0.15">WT/iaaM</text>
<polyline points="293.6,503.5 322.8,492.5 351.9,487.7" fill="none" stroke="#7a7a7a" stroke-width="2.2" stroke-linejoin="round"/>
<polyline points="380,494.9 409.2,476.1 438.4,489.1" fill="none" stroke="#7a7a7a" stroke-width="2.2" stroke-linejoin="round"/>
<polyline points="293.6,489.1 322.8,426.3 351.9,458.2" fill="none" stroke="#dc3a34" stroke-width="2" stroke-dasharray="2 1.9"/>
<polyline points="380,495.6 409.2,484.6 438.4,473.7" fill="none" stroke="#dc3a34" stroke-width="2" stroke-dasharray="2 1.9"/>
<line x1="293.6" y1="483.3" x2="293.6" y2="494.90000000000003" stroke="#777" stroke-width="0.8" />
<line x1="292.1" y1="483.3" x2="295.1" y2="483.3" stroke="#777" stroke-width="0.8" />
<line x1="292.1" y1="494.90000000000003" x2="295.1" y2="494.90000000000003" stroke="#777" stroke-width="0.8" />
<line x1="322.8" y1="418.6" x2="322.8" y2="434.0" stroke="#777" stroke-width="0.8" />
<line x1="321.3" y1="418.6" x2="324.3" y2="418.6" stroke="#777" stroke-width="0.8" />
<line x1="321.3" y1="434.0" x2="324.3" y2="434.0" stroke="#777" stroke-width="0.8" />
<line x1="351.9" y1="452.4" x2="351.9" y2="464.0" stroke="#777" stroke-width="0.8" />
<line x1="350.4" y1="452.4" x2="353.4" y2="452.4" stroke="#777" stroke-width="0.8" />
<line x1="350.4" y1="464.0" x2="353.4" y2="464.0" stroke="#777" stroke-width="0.8" />
<line x1="409.2" y1="480.6" x2="409.2" y2="488.6" stroke="#777" stroke-width="0.8" />
<line x1="407.7" y1="480.6" x2="410.7" y2="480.6" stroke="#777" stroke-width="0.8" />
<line x1="407.7" y1="488.6" x2="410.7" y2="488.6" stroke="#777" stroke-width="0.8" />
<circle cx="293.6" cy="503.5" r="2.6" fill="#ffffff" fill-opacity="0.45" stroke="#828282" stroke-width="1.1"/>
<circle cx="322.8" cy="492.5" r="2.6" fill="#ffffff" fill-opacity="0.45" stroke="#828282" stroke-width="1.1"/>
<circle cx="351.9" cy="487.7" r="2.6" fill="#ffffff" fill-opacity="0.45" stroke="#828282" stroke-width="1.1"/>
<circle cx="380" cy="494.9" r="2.6" fill="#ffffff" fill-opacity="0.45" stroke="#828282" stroke-width="1.1"/>
<circle cx="409.2" cy="476.1" r="2.6" fill="#ffffff" fill-opacity="0.45" stroke="#828282" stroke-width="1.1"/>
<circle cx="438.4" cy="489.1" r="2.6" fill="#ffffff" fill-opacity="0.45" stroke="#828282" stroke-width="1.1"/>
<path d="M290.6 491.7 L293.6 486.5 L296.6 491.7 Z" fill="#f26a2a" stroke="#e0402a" stroke-width="0.6"/>
<path d="M319.8 428.9 L322.8 423.7 L325.8 428.9 Z" fill="#f26a2a" stroke="#e0402a" stroke-width="0.6"/>
<path d="M348.9 460.8 L351.9 455.6 L354.9 460.8 Z" fill="#f26a2a" stroke="#e0402a" stroke-width="0.6"/>
<path d="M377.0 498.2 L380.0 493.0 L383.0 498.2 Z" fill="#f26a2a" stroke="#e0402a" stroke-width="0.6"/>
<path d="M406.2 487.2 L409.2 482.0 L412.2 487.2 Z" fill="#f26a2a" stroke="#e0402a" stroke-width="0.6"/>
<path d="M435.4 476.3 L438.4 471.1 L441.4 476.3 Z" fill="#f26a2a" stroke="#e0402a" stroke-width="0.6"/>
<line x1="503.2" y1="413.3" x2="503.2" y2="567.5" stroke="#8c8c8c" stroke-width="1" />
<line x1="503.2" y1="526.8" x2="673.2" y2="526.8" stroke="#8a8a8a" stroke-width="1" />
<line x1="589" y1="526.8" x2="589" y2="567.5" stroke="#8c8c8c" stroke-width="1" />
<line x1="673.2" y1="526.8" x2="673.2" y2="567.5" stroke="#8c8c8c" stroke-width="1" />
<text x="496.3" y="530.3" font-size="10" font-weight="bold" text-anchor="end" fill="#1a1a1a" textLength="5.12" lengthAdjust="spacingAndGlyphs"  stroke="#1a1a1a" stroke-width="0.15">0</text>
<text x="496.3" y="507.6" font-size="10" font-weight="bold" text-anchor="end" fill="#1a1a1a" textLength="10.23" lengthAdjust="spacingAndGlyphs"  stroke="#1a1a1a" stroke-width="0.15">20</text>
<text x="496.3" y="484.9" font-size="10" font-weight="bold" text-anchor="end" fill="#1a1a1a" textLength="10.23" lengthAdjust="spacingAndGlyphs"  stroke="#1a1a1a" stroke-width="0.15">40</text>
<text x="496.3" y="462.2" font-size="10" font-weight="bold" text-anchor="end" fill="#1a1a1a" textLength="10.23" lengthAdjust="spacingAndGlyphs"  stroke="#1a1a1a" stroke-width="0.15">60</text>
<text x="496.3" y="439.5" font-size="10" font-weight="bold" text-anchor="end" fill="#1a1a1a" textLength="10.23" lengthAdjust="spacingAndGlyphs"  stroke="#1a1a1a" stroke-width="0.15">80</text>
<text x="496.3" y="416.8" font-size="10" font-weight="bold" text-anchor="end" fill="#1a1a1a" textLength="15.35" lengthAdjust="spacingAndGlyphs"  stroke="#1a1a1a" stroke-width="0.15">100</text>
<text x="517.6" y="543.2" font-size="10.3" font-weight="bold" text-anchor="middle" fill="#1a1a1a" textLength="12.8" lengthAdjust="spacingAndGlyphs"  stroke="#1a1a1a" stroke-width="0.2">0 h</text>
<text x="546.0" y="543.2" font-size="10.3" font-weight="bold" text-anchor="middle" fill="#1a1a1a" textLength="17.72" lengthAdjust="spacingAndGlyphs"  stroke="#1a1a1a" stroke-width="0.2">24 h</text>
<text x="574.5" y="543.2" font-size="10.3" font-weight="bold" text-anchor="middle" fill="#1a1a1a" textLength="17.72" lengthAdjust="spacingAndGlyphs"  stroke="#1a1a1a" stroke-width="0.2">96 h</text>
<text x="602.7" y="543.2" font-size="10.3" font-weight="bold" text-anchor="middle" fill="#1a1a1a" textLength="12.8" lengthAdjust="spacingAndGlyphs"  stroke="#1a1a1a" stroke-width="0.2">0 h</text>
<text x="631.1" y="543.2" font-size="10.3" font-weight="bold" text-anchor="middle" fill="#1a1a1a" textLength="17.72" lengthAdjust="spacingAndGlyphs"  stroke="#1a1a1a" stroke-width="0.2">24 h</text>
<text x="659.3" y="543.2" font-size="10.3" font-weight="bold" text-anchor="middle" fill="#1a1a1a" textLength="17.72" lengthAdjust="spacingAndGlyphs"  stroke="#1a1a1a" stroke-width="0.2">96 h</text>
<text x="546.7" y="563.5" font-size="10.3" font-weight="bold" text-anchor="middle" fill="#1a1a1a" textLength="42.3" lengthAdjust="spacingAndGlyphs"  stroke="#1a1a1a" stroke-width="0.2">Rootstock</text>
<text x="630.8" y="563.5" font-size="10.3" font-weight="bold" text-anchor="middle" fill="#1a1a1a" textLength="23.56" lengthAdjust="spacingAndGlyphs"  stroke="#1a1a1a" stroke-width="0.2">Scion</text>
<text x="585.5" y="415.9" font-size="14" font-weight="bold" text-anchor="middle" fill="#1a1a1a" textLength="28.5" lengthAdjust="spacingAndGlyphs"  stroke="#1a1a1a" stroke-width="0.2">PERX</text>
<text x="-96.4" y="-100.0" font-size="10" font-weight="normal" text-anchor="middle" fill="#1a1a1a" textLength="25" lengthAdjust="spacingAndGlyphs" transform="rotate(-90 -96.4 -100.0)"  stroke="#1a1a1a" stroke-width="0.35">FPKM</text>
<text x="473.8" y="401.6" font-size="14" font-weight="normal" text-anchor="start" fill="#1a1a1a" textLength="12.1" lengthAdjust="spacingAndGlyphs" >(I)</text>
<line x1="497.8" y1="396.2" x2="516.4" y2="396.2" stroke="#7a7a7a" stroke-width="2" />
<circle cx="507.1" cy="396.2" r="2.6" fill="#ffffff" fill-opacity="0.45" stroke="#828282" stroke-width="1.1"/>
<text x="519.6" y="399.7" font-size="10" font-weight="bold" text-anchor="start" fill="#1a1a1a" textLength="32.8" lengthAdjust="spacingAndGlyphs"  stroke="#1a1a1a" stroke-width="0.15">WT/WT</text>
<line x1="554.8" y1="396.2" x2="572.2" y2="396.2" stroke="#dc3a34" stroke-width="2" stroke-dasharray="2 1.9"/>
<path d="M560.5 398.8 L563.5 393.6 L566.5 398.8 Z" fill="#f26a2a" stroke="#e0402a" stroke-width="0.6"/>
<text x="577.2" y="399.7" font-size="10" font-weight="bold" text-anchor="start" fill="#1a1a1a" textLength="39.2" lengthAdjust="spacingAndGlyphs"  stroke="#1a1a1a" stroke-width="0.15">WT/iaaM</text>
<polyline points="517.6,524.8 546,496.6 574.5,518.9" fill="none" stroke="#7a7a7a" stroke-width="2.2" stroke-linejoin="round"/>
<polyline points="602.7,524.8 631.1,524.8 659.3,525.5" fill="none" stroke="#7a7a7a" stroke-width="2.2" stroke-linejoin="round"/>
<polyline points="517.6,525.8 546,443.5 574.5,512.1" fill="none" stroke="#dc3a34" stroke-width="2" stroke-dasharray="2 1.9"/>
<polyline points="602.7,524.8 631.1,504.2 659.3,511" fill="none" stroke="#dc3a34" stroke-width="2" stroke-dasharray="2 1.9"/>
<line x1="546" y1="440.0" x2="546" y2="447.0" stroke="#777" stroke-width="0.8" />
<line x1="544.5" y1="440.0" x2="547.5" y2="440.0" stroke="#777" stroke-width="0.8" />
<line x1="544.5" y1="447.0" x2="547.5" y2="447.0" stroke="#777" stroke-width="0.8" />
<circle cx="517.6" cy="524.8" r="2.6" fill="#ffffff" fill-opacity="0.45" stroke="#828282" stroke-width="1.1"/>
<circle cx="546" cy="496.6" r="2.6" fill="#ffffff" fill-opacity="0.45" stroke="#828282" stroke-width="1.1"/>
<circle cx="574.5" cy="518.9" r="2.6" fill="#ffffff" fill-opacity="0.45" stroke="#828282" stroke-width="1.1"/>
<circle cx="602.7" cy="524.8" r="2.6" fill="#ffffff" fill-opacity="0.45" stroke="#828282" stroke-width="1.1"/>
<circle cx="631.1" cy="524.8" r="2.6" fill="#ffffff" fill-opacity="0.45" stroke="#828282" stroke-width="1.1"/>
<circle cx="659.3" cy="525.5" r="2.6" fill="#ffffff" fill-opacity="0.45" stroke="#828282" stroke-width="1.1"/>
<path d="M514.6 528.4 L517.6 523.2 L520.6 528.4 Z" fill="#f26a2a" stroke="#e0402a" stroke-width="0.6"/>
<path d="M543.0 446.1 L546.0 440.9 L549.0 446.1 Z" fill="#f26a2a" stroke="#e0402a" stroke-width="0.6"/>
<path d="M571.5 514.7 L574.5 509.5 L577.5 514.7 Z" fill="#f26a2a" stroke="#e0402a" stroke-width="0.6"/>
<path d="M599.7 527.4 L602.7 522.2 L605.7 527.4 Z" fill="#f26a2a" stroke="#e0402a" stroke-width="0.6"/>
<path d="M628.1 506.8 L631.1 501.6 L634.1 506.8 Z" fill="#f26a2a" stroke="#e0402a" stroke-width="0.6"/>
<path d="M656.3 513.6 L659.3 508.4 L662.3 513.6 Z" fill="#f26a2a" stroke="#e0402a" stroke-width="0.6"/>
<defs>
<filter id="blur1" x="-50%" y="-50%" width="200%" height="200%"><feGaussianBlur stdDeviation="1.2"/></filter>
<filter id="blur2" x="-60%" y="-60%" width="220%" height="220%"><feGaussianBlur stdDeviation="2.2"/></filter>
<filter id="blur05" x="-20%" y="-20%" width="140%" height="140%"><feGaussianBlur stdDeviation="0.5"/></filter>
<filter id="blur3" x="-30%" y="-30%" width="160%" height="160%"><feGaussianBlur stdDeviation="3"/></filter>
<clipPath id="photoClip"><rect x="60" y="41.4" width="104" height="124.3"/></clipPath>
<marker id="ahR" viewBox="0 0 10 10" refX="9" refY="5" markerWidth="4.2" markerHeight="4.2" orient="auto-start-reverse"><path d="M0 0 L10 5 L0 10 Z" fill="#e0201c"/></marker>
<marker id="ahO" viewBox="0 0 10 10" refX="9" refY="5" markerWidth="4.2" markerHeight="4.2" orient="auto-start-reverse"><path d="M0 0 L10 5 L0 10 Z" fill="#ea6a3c"/></marker>
<pattern id="hatch" patternUnits="userSpaceOnUse" width="3" height="3" patternTransform="rotate(-45)"><rect width="3" height="3" fill="#fff"/><rect x="0" y="0" width="1.5" height="3" fill="#111"/></pattern>
<pattern id="dots" patternUnits="userSpaceOnUse" width="4" height="4"><rect width="4" height="4" fill="#fbfbfb"/><rect x="0" y="0" width="1" height="1" fill="#dedede"/><rect x="2" y="2" width="1" height="1" fill="#e2e2e2"/></pattern>
<linearGradient id="gBody" x1="0" y1="0" x2="1" y2="0">
 <stop offset="0" stop-color="#a8d072"/><stop offset="0.3" stop-color="#b0d87e"/><stop offset="0.7" stop-color="#b2d980"/><stop offset="1" stop-color="#a6d070"/></linearGradient>
<linearGradient id="gScion" x1="0" y1="0" x2="1" y2="0">
 <stop offset="0" stop-color="#aed47c"/><stop offset="0.5" stop-color="#b6da84"/><stop offset="1" stop-color="#acd27a"/></linearGradient>
<linearGradient id="gTis1" x1="0" y1="0" x2="1" y2="0">
 <stop offset="0" stop-color="#e6eeef"/><stop offset="0.12" stop-color="#e0eaec"/><stop offset="0.3" stop-color="#f0f3f2"/><stop offset="1" stop-color="#f3f5f3"/></linearGradient>
<linearGradient id="gT1" x1="0" y1="0" x2="1" y2="0">
 <stop offset="0" stop-color="#dfe1d2"/><stop offset="0.15" stop-color="#e7e8da"/><stop offset="0.85" stop-color="#eaebdd"/><stop offset="1" stop-color="#eef0e6"/></linearGradient>
<linearGradient id="gTip2" x1="0" y1="0" x2="0" y2="1">
 <stop offset="0" stop-color="#dcdfcc"/><stop offset="0.5" stop-color="#d9decd"/><stop offset="0.75" stop-color="#d6ddd2"/><stop offset="0.9" stop-color="#c4dad8"/><stop offset="1" stop-color="#80bcc6"/></linearGradient>
<linearGradient id="gTip3" x1="0" y1="0" x2="0" y2="1">
 <stop offset="0" stop-color="#e0e4dc"/><stop offset="0.6" stop-color="#dce2d8"/><stop offset="0.8" stop-color="#c8dcd8"/><stop offset="1" stop-color="#6ab4c0"/></linearGradient>
<linearGradient id="gBlue2" x1="0" y1="0" x2="0" y2="1">
 <stop offset="0" stop-color="#6ab0bc" stop-opacity="0"/><stop offset="0.6" stop-color="#6ab0bc" stop-opacity="0.15"/><stop offset="1" stop-color="#5aa8b6" stop-opacity="0.7"/></linearGradient>
<linearGradient id="gBlue3" x1="0" y1="0" x2="0" y2="1">
 <stop offset="0" stop-color="#4aa6b4" stop-opacity="0"/><stop offset="0.5" stop-color="#4aa6b4" stop-opacity="0.3"/><stop offset="1" stop-color="#2e98a8" stop-opacity="0.85"/></linearGradient>
<linearGradient id="gBlue3s" x1="0" y1="0" x2="0" y2="1">
 <stop offset="0" stop-color="#4aa6b4" stop-opacity="0"/><stop offset="0.4" stop-color="#4aa6b4" stop-opacity="0.45"/><stop offset="1" stop-color="#3aa0b0" stop-opacity="0.7"/></linearGradient>
</defs>
<g clip-path="url(#photoClip)">
<rect x="60" y="41.4" width="104" height="124.3" fill="#0b0d0a"/>
<path d="M92 74 L130 74 L146 80 L154 100 L155 166 L66 166 L66 100 L70 82 Z" fill="#363d34" filter="url(#blur3)" opacity="0.85"/>
<path d="M81.1 107.8 L73.5 111.3 M136.7 86.2 L150.8 90.2 M77.7 85.0 L63.7 86.5 M135.5 117.3 L142.5 118.2 M82.4 116.5 L63.4 119.4 M136.2 99.2 L149.6 108.0 M84.4 129.6 L74.2 136.6 M136.8 84.0 L156.0 88.7 M78.8 92.4 L71.2 94.3 M134.1 150.2 L142.3 153.6 M85.1 134.9 L74.0 139.3 M136.8 85.4 L143.6 86.7 M85.7 138.5 L73.2 141.7 M134.9 130.4 L147.8 133.6 M87.1 148.3 L70.3 152.0 M135.0 129.4 L147.3 136.9 M86.3 142.7 L77.5 148.7 M136.6 90.2 L147.8 96.1 M78.9 93.1 L65.2 94.6 M134.6 137.5 L151.5 144.4 M88.2 155.3 L78.2 160.1 M134.9 131.1 L149.4 136.0 M87.7 152.2 L67.8 159.2 M134.6 137.1 L140.9 140.2 M85.2 135.7 L66.2 146.5 M136.0 104.5 L147.0 109.6 M77.3 81.9 L64.1 84.3 M136.6 90.1 L142.7 93.3 M78.6 91.1 L69.1 94.0 M133.9 154.9 L140.8 157.3 M84.0 127.3 L66.5 137.2 M133.9 154.3 L143.9 157.4 M81.6 110.9 L64.8 122.0 M136.5 93.0 L145.1 94.8 M80.0 100.1 L67.3 105.4 M136.1 102.6 L141.9 104.4 M81.7 111.8 L69.2 120.1 M134.6 139.4 L147.6 145.1 M85.6 138.2 L79.8 141.8 M134.2 147.1 L151.7 156.8 M82.0 113.7 L69.7 115.5 M134.8 134.5 L141.7 135.4 M79.7 98.0 L71.4 100.2 M136.8 84.5 L142.7 85.5 M78.3 88.7 L66.5 89.9 M133.9 155.2 L149.5 157.8 M80.2 101.7 L69.1 104.9 M136.6 90.6 L152.6 101.7 M82.9 120.1 L69.3 121.9 M136.6 88.8 L147.8 91.4 M87.6 151.3 L79.0 152.1 M133.6 161.8 L147.9 164.1 M83.9 126.7 L77.9 129.0 M133.5 164.2 L151.4 172.8 M80.3 102.5 L68.6 104.5 M134.3 146.4 L147.0 153.3 M81.2 108.4 L72.9 113.0 M133.5 164.7 L150.7 174.3 M87.4 150.4 L70.0 154.0 M135.2 124.5 L146.8 125.7 M77.4 82.4 L67.1 84.7 M134.5 139.6 L154.8 146.3 M88.9 160.6 L70.8 172.7 M135.7 111.4 L145.0 113.3 M79.5 96.9 L71.0 100.6 M133.8 157.4 L152.2 163.9 M85.3 136.2 L66.7 138.6 M134.7 136.8 L152.7 146.6 M86.6 144.5 L73.1 147.0 M134.2 147.9 L144.1 153.4 M89.4 163.6 L77.6 167.2 M133.6 161.4 L151.0 164.5 M78.6 90.9 L71.5 95.4 M134.1 149.4 L141.4 153.5 M89.5 164.3 L73.6 168.7 M135.1 127.2 L143.1 128.0 M89.4 163.5 L74.1 169.3 M133.7 160.3 L144.8 167.0 M87.5 151.0 L78.4 153.1 M136.0 105.2 L145.1 109.0 M80.3 102.3 L67.8 104.3 M133.8 158.3 L144.8 162.0 M84.4 130.2 L64.9 136.4 M133.8 158.9 L146.8 163.9 M83.7 125.0 L77.7 127.0 M136.4 95.7 L141.7 98.7 M79.2 94.8 L67.1 100.9 M135.0 127.9 L145.5 131.8 M84.1 127.8 L65.7 130.4 M135.0 128.2 L144.7 130.5 M86.8 146.4 L73.7 151.7 M134.3 145.4 L153.9 151.8 M84.8 132.7 L71.6 137.6 M134.5 139.6 L146.9 144.3 M83.1 121.1 L64.2 130.3 M133.9 155.4 L154.4 160.0 M84.1 128.1 L65.9 138.7 M136.5 91.8 L144.1 94.3 M77.9 86.2 L68.2 87.5 M134.6 137.6 L150.4 147.4 M79.0 93.3 L63.1 100.6 M136.5 92.3 L153.2 103.6 M79.8 98.9 L59.5 105.1 M135.3 121.9 L154.2 132.8 M79.1 93.9 L67.0 98.4 M135.8 109.2 L144.6 111.5 M86.2 142.1 L80.3 144.4 M135.4 117.9 L141.5 119.5 M85.0 133.7 L70.9 135.4 M133.5 164.7 L148.9 175.2 M78.3 89.0 L68.1 90.1 M134.2 147.0 L144.4 148.6 M82.4 116.3 L64.5 126.5 M136.1 102.2 L143.2 106.8 M84.3 129.1 L67.2 131.4 M136.8 84.9 L153.0 90.1 M77.9 86.2 L58.7 94.8 M134.2 148.9 L140.5 152.7 M77.8 85.7 L59.1 92.1 M135.8 109.2 L148.3 117.2 M80.4 103.0 L72.9 105.9 M136.2 100.5 L143.8 101.8 M77.6 84.3 L68.7 86.6 M135.9 106.2 L153.6 110.5 M83.4 123.0 L74.8 125.4 M136.9 81.6 L146.9 82.5 M86.3 143.0 L71.8 145.8 M135.3 120.8 L156.1 123.8 M87.4 150.4 L75.3 154.8 M134.0 151.8 L145.6 156.0 M85.8 139.1 L64.8 144.9 M134.1 151.6 L149.9 158.6 M82.2 114.8 L70.7 116.1 M136.5 91.2 L142.9 94.4 M80.3 102.0 L71.7 103.1 M134.0 152.3 L152.1 160.8 M80.6 104.2 L71.0 106.6 M135.4 119.5 L143.5 122.2 M80.4 102.6 L62.7 114.7 M135.1 127.0 L143.3 132.6 M80.9 106.6 L69.3 107.6 M135.6 112.8 L148.4 117.5 M79.6 97.3 L65.5 98.5 M136.1 102.7 L143.2 104.9 M77.5 83.6 L71.4 85.1 M136.2 100.0 L150.5 105.5 M86.6 144.5 L71.8 151.9 M133.9 155.6 L145.7 158.7 M89.6 164.7 L82.1 168.5 M134.7 135.3 L140.5 138.7 M88.4 156.7 L74.1 164.0 M134.1 149.9 L141.8 152.8 M83.4 123.4 L66.5 132.8 M134.1 151.1 L147.1 159.2 M85.7 138.7 L69.0 142.3 M136.9 82.7 L144.7 84.9 M78.3 89.0 L60.3 96.2 M134.8 134.0 L149.2 140.9 M83.2 122.1 L77.9 125.0 M134.4 144.4 L147.5 149.4" stroke="#b0b8ac" stroke-width="0.6" opacity="0.75" fill="none" stroke-linecap="round"/>
<path d="M87 41 L133 41 L131 60 L129 78 L91 78 L89 60 Z" fill="#8cb866" filter="url(#blur2)" opacity="0.7"/>
<path d="M92.3 64.1 L89.2 65.2 M127.0 49.8 L130.2 48.7 M92.2 66.5 L88.4 67.8 M127.0 75.2 L132.4 74.3 M92.5 57.8 L86.5 60.1 M127.0 62.6 L132.2 59.1 M92.8 46.2 L88.8 47.6 M127.0 51.7 L131.5 48.0 M92.9 43.1 L88.7 44.2 M127.0 65.2 L133.1 63.4 M92.5 59.1 L87.1 58.8 M127.0 45.1 L133.8 42.1 M92.0 75.2 L86.0 70.4 M127.0 57.1 L132.6 61.4 M92.5 56.7 L88.5 55.0 M127.0 74.1 L131.0 74.6 M92.9 46.0 L88.3 49.3 M127.0 45.6 L134.1 45.7 M92.1 72.0 L86.0 69.7 M127.0 72.4 L131.3 69.1 M93.0 41.1 L87.6 40.8 M127.0 51.6 L130.6 50.8 M92.7 52.1 L87.1 47.4 M127.0 67.3 L133.2 63.6 M92.0 73.4 L86.5 76.9 M127.0 51.1 L131.8 50.4 M92.0 76.0 L86.1 74.8 M127.0 56.0 L130.5 53.4 M92.9 44.6 L86.0 42.4 M127.0 73.7 L131.0 72.4 M92.5 58.9 L88.6 58.2 M127.0 74.5 L133.7 77.6 M92.3 63.1 L86.2 67.4 M127.0 60.2 L132.3 56.3 M92.2 66.6 L87.3 68.4 M127.0 63.6 L130.6 60.9 M92.0 73.4 L88.4 73.3 M127.0 53.0 L131.2 54.5 M92.0 75.2 L87.8 76.1 M127.0 51.5 L132.7 50.7 M92.8 46.9 L89.3 45.3 M127.0 72.7 L132.1 70.6 M92.0 72.7 L84.1 72.2 M127.0 45.9 L130.3 43.7 M92.6 53.0 L89.4 51.7 M127.0 50.0 L132.0 53.1 M92.2 67.2 L87.2 66.6 M127.0 59.3 L131.8 58.3 M92.9 43.2 L89.4 45.8 M127.0 45.4 L132.4 46.4" stroke="#c8e0a8" stroke-width="0.7" opacity="0.8" fill="none" stroke-linecap="round"/>
<path d="M91 41 L129 41 L127.5 60 L126 78 L94 78 L92.5 60 Z" fill="url(#gScion)" filter="url(#blur05)"/>
<path d="M75 80 Q106 74 139 79 L138 110 L135.5 166 L88 166 L80 120 Z" fill="#c0dca0" filter="url(#blur1)"/>
<path d="M76.5 80.5 Q106 75 137.5 79.5 L136.5 110 L134 166 L89.5 166 L81.5 120 Z" fill="url(#gBody)" filter="url(#blur05)"/>
<path d="M102 79 L123 79 L113 144 Z" fill="#8abb5e" filter="url(#blur1)"/>
<path d="M128.3 69.9 l-0.9 -1.0 M102.4 97.5 l1.8 1.4 M128.9 46.6 l-1.9 0.8 M130.2 100.8 l0.3 -2.0 M101.9 155.2 l1.3 1.4 M134.4 73.8 l-1.6 -1.4 M109.3 125.8 l1.8 0.9 M116.3 135.8 l-0.2 0.2 M82.2 137.9 l-1.1 1.7 M116.1 80.5 l-1.5 -1.0 M115.6 127.8 l-1.6 -1.7 M109.4 113.9 l-0.4 -1.1 M113.7 45.3 l-0.8 -0.2 M133.7 121.3 l1.5 -0.1 M93.1 73.6 l1.8 0.8 M97.2 46.6 l-0.0 0.7 M103.5 74.9 l0.7 1.7 M92.7 48.1 l-0.6 -0.3 M118.2 67.8 l1.2 1.0 M108.3 68.6 l1.9 -0.8 M125.9 71.7 l-1.1 1.0 M96.5 158.2 l-0.0 -1.3 M92.5 94.0 l0.7 1.8 M88.2 91.2 l-1.1 1.9 M87.9 50.2 l-1.8 -0.4 M130.3 150.0 l0.9 2.0 M132.2 83.5 l-1.3 1.7 M121.8 47.8 l0.7 -0.5 M100.9 83.8 l-1.3 -2.0 M95.7 86.2 l1.8 -1.5 M134.0 68.9 l-0.6 1.3 M126.0 95.9 l-1.8 -0.1 M100.9 154.3 l-1.2 -0.5 M130.2 47.6 l-0.4 1.2 M122.9 48.9 l-1.9 -1.7 M131.5 74.8 l1.0 1.6 M99.0 76.7 l1.8 0.5 M94.7 130.0 l-0.7 -0.9 M80.2 134.7 l1.7 0.5 M132.8 46.9 l-1.1 -0.1 M133.6 158.5 l-0.5 -1.0 M104.1 103.2 l1.7 -1.3 M124.9 132.6 l1.3 1.1 M114.0 83.3 l-0.7 -0.6 M123.8 53.5 l-1.2 1.0 M93.8 51.8 l-1.9 0.2 M98.2 161.6 l1.5 2.0 M94.8 54.1 l-1.6 -0.0 M119.7 97.6 l-1.1 -0.3 M114.7 124.9 l1.0 1.4 M117.2 58.5 l1.4 -0.8 M111.7 88.8 l1.0 -1.2 M93.9 73.4 l-1.4 1.5 M112.4 83.2 l-0.4 2.0 M108.4 71.8 l1.2 0.6 M135.5 56.3 l-0.1 1.3 M127.1 153.7 l-1.8 -0.8 M86.7 66.7 l1.9 0.3 M132.1 88.7 l1.5 -0.2 M94.6 137.3 l1.8 -1.6 M113.4 118.4 l-1.1 -0.5 M87.9 68.5 l-1.0 0.4 M116.5 68.4 l-2.0 -0.7 M118.0 66.2 l-0.8 -1.2 M124.5 109.8 l-1.7 -1.6 M102.1 110.0 l0.6 -1.6 M89.2 127.4 l-0.4 -0.9 M97.2 158.4 l-0.8 0.3 M100.0 94.0 l1.5 2.0 M100.4 67.7 l0.9 -1.2 M80.3 152.2 l-0.3 1.3 M102.7 149.9 l-0.2 -1.3 M80.8 110.2 l0.6 1.6 M85.0 118.7 l-0.5 0.0 M88.2 78.0 l0.1 1.7 M86.1 102.9 l1.2 1.9 M91.1 59.2 l1.8 1.9 M107.0 50.4 l1.7 -0.4 M130.6 118.4 l1.3 -1.4 M124.0 70.6 l-0.4 1.4 M126.4 66.0 l-1.1 -0.4 M109.0 90.0 l-1.5 -1.0 M120.6 151.7 l-1.8 0.2 M122.4 48.6 l1.4 -1.5 M113.6 110.0 l0.5 -0.8 M103.5 113.9 l-0.3 0.6 M105.0 96.6 l-1.9 0.5 M107.4 72.2 l1.1 1.1 M105.7 65.5 l-0.1 -1.6 M87.2 95.7 l-1.6 -0.2" stroke="#d4eca8" stroke-width="0.6" opacity="0.5" fill="none"/>
<g stroke="#e0281c" stroke-width="1.7" fill="none" stroke-dasharray="4.5 3.5">
<path d="M94.5 77.8 L129.6 77.8 L122.3 146.2 L102.8 146.2 Z"/>
<path d="M101.8 77.8 L112.6 144.2 L122.3 77.8"/>
</g>
<text x="111.0" y="53.6" font-size="9.5" font-weight="bold" text-anchor="middle" fill="#2c3a22" textLength="24.5" lengthAdjust="spacingAndGlyphs" >Scion</text>
<text x="110.8" y="157.0" font-size="9.5" font-weight="bold" text-anchor="middle" fill="#26301e" textLength="46" lengthAdjust="spacingAndGlyphs" >Rootstock</text>
</g>
<line x1="97" y1="84.2" x2="44.6" y2="100.7" stroke="#e0201c" stroke-width="1.4" marker-end="url(#ahR)"/>
<line x1="111.6" y1="93.4" x2="185.2" y2="57.5" stroke="#ea6a3c" stroke-width="1.4" marker-end="url(#ahO)"/>
<line x1="122" y1="117" x2="183.4" y2="133.7" stroke="#e0201c" stroke-width="1.4" marker-end="url(#ahR)"/>
<rect x="24.2" y="85.9" width="11.4" height="62.8" fill="none" stroke="#111" stroke-width="2"/>
<rect x="196.6" y="106.2" width="10.8" height="62.5" fill="none" stroke="#111" stroke-width="2"/>
<path d="M187.3 27.6 L216.2 27.6 L202.7 86.5 Z" fill="none" stroke="#111" stroke-width="2.1" stroke-linejoin="miter"/>
<line x1="187.5" y1="21.3" x2="216" y2="21.3" stroke="#ea6a3c" stroke-width="1.3" marker-start="url(#ahO)" marker-end="url(#ahO)"/>
<line x1="223.3" y1="28.5" x2="223.3" y2="84.5" stroke="#e0201c" stroke-width="1.3" marker-start="url(#ahR)" marker-end="url(#ahR)"/>
<text x="201.2" y="19.0" font-size="10.5" font-weight="normal" text-anchor="middle" fill="#111" textLength="26.5" lengthAdjust="spacingAndGlyphs"  stroke="#111" stroke-width="0.25">2 mm</text>
<text x="231.5" y="50.6" font-size="10.5" font-weight="normal" text-anchor="middle" fill="#111" textLength="27" lengthAdjust="spacingAndGlyphs" transform="rotate(90 231.5 50.6)"  stroke="#111" stroke-width="0.25">4 mm</text>
<text x="217.2" y="133.6" font-size="10.5" font-weight="normal" text-anchor="middle" fill="#111" textLength="27" lengthAdjust="spacingAndGlyphs" transform="rotate(90 217.2 133.6)"  stroke="#111" stroke-width="0.25">4 mm</text>
<text x="20.6" y="120.4" font-size="10.5" font-weight="normal" text-anchor="middle" fill="#111" textLength="26.8" lengthAdjust="spacingAndGlyphs" transform="rotate(-90 20.6 120.4)"  stroke="#111" stroke-width="0.25">4 mm</text>
<text x="29.2" y="157.2" font-size="10.5" font-weight="normal" text-anchor="middle" fill="#111" textLength="26.2" lengthAdjust="spacingAndGlyphs"  stroke="#111" stroke-width="0.25">1 mm</text>
<text x="205.0" y="180.4" font-size="10.5" font-weight="normal" text-anchor="middle" fill="#111" textLength="26" lengthAdjust="spacingAndGlyphs"  stroke="#111" stroke-width="0.25">1 mm</text>
<text x="10.2" y="20.5" font-size="14" font-weight="normal" text-anchor="start" fill="#1a1a1a" textLength="17.4" lengthAdjust="spacingAndGlyphs" >(A)</text>
<text x="6.3" y="209.5" font-size="14" font-weight="normal" text-anchor="start" fill="#1a1a1a" textLength="18" lengthAdjust="spacingAndGlyphs" >(D)</text>
<rect x="59.2" y="201.2" width="5.2" height="5.2" fill="url(#dots)" stroke="#777" stroke-width="0.8"/>
<text x="68.3" y="206.9" font-size="10" font-weight="bold" text-anchor="start" fill="#1a1a1a" textLength="33.3" lengthAdjust="spacingAndGlyphs"  stroke="#1a1a1a" stroke-width="0.15">WT/WT</text>
<rect x="105.1" y="201.2" width="5.2" height="5.2" fill="url(#hatch)" stroke="#333" stroke-width="0.8"/>
<text x="113.9" y="206.9" font-size="10" font-weight="bold" text-anchor="start" fill="#1a1a1a" textLength="40.3" lengthAdjust="spacingAndGlyphs"  stroke="#1a1a1a" stroke-width="0.15">WT/iaaM</text>
<line x1="60.8" y1="218" x2="60.8" y2="358.2" stroke="#9a9a9a" stroke-width="1" />
<line x1="60.8" y1="358.2" x2="233.5" y2="358.2" stroke="#8a8a8a" stroke-width="1" />
<text x="53.6" y="362.3" font-size="10" font-weight="bold" text-anchor="end" fill="#1a1a1a" textLength="17.5" lengthAdjust="spacingAndGlyphs"  stroke="#1a1a1a" stroke-width="0.15">0.00</text>
<text x="53.6" y="334.3" font-size="10" font-weight="bold" text-anchor="end" fill="#1a1a1a" textLength="17.5" lengthAdjust="spacingAndGlyphs"  stroke="#1a1a1a" stroke-width="0.15">0.05</text>
<text x="53.6" y="306.3" font-size="10" font-weight="bold" text-anchor="end" fill="#1a1a1a" textLength="17.5" lengthAdjust="spacingAndGlyphs"  stroke="#1a1a1a" stroke-width="0.15">0.10</text>
<text x="53.6" y="278.3" font-size="10" font-weight="bold" text-anchor="end" fill="#1a1a1a" textLength="17.5" lengthAdjust="spacingAndGlyphs"  stroke="#1a1a1a" stroke-width="0.15">0.15</text>
<text x="53.6" y="250.3" font-size="10" font-weight="bold" text-anchor="end" fill="#1a1a1a" textLength="17.5" lengthAdjust="spacingAndGlyphs"  stroke="#1a1a1a" stroke-width="0.15">0.20</text>
<text x="53.6" y="222.3" font-size="10" font-weight="bold" text-anchor="end" fill="#1a1a1a" textLength="17.5" lengthAdjust="spacingAndGlyphs"  stroke="#1a1a1a" stroke-width="0.15">0.25</text>
<text x="22.3" y="283.2" font-size="9.5" font-weight="bold" text-anchor="middle" fill="#1a1a1a" textLength="121.6" lengthAdjust="spacingAndGlyphs" transform="rotate(-90 22.3 283.2)"  stroke="#1a1a1a" stroke-width="0.3">IAA content in scion of grafts</text>
<text x="35.8" y="282.3" font-size="9.5" font-weight="bold" text-anchor="middle" fill="#1a1a1a" textLength="33.5" lengthAdjust="spacingAndGlyphs" transform="rotate(-90 35.8 282.3)"  stroke="#1a1a1a" stroke-width="0.3">(ng/mg)</text>
<text x="89.4" y="375.0" font-size="10.3" font-weight="bold" text-anchor="middle" fill="#1a1a1a" textLength="13.5" lengthAdjust="spacingAndGlyphs"  stroke="#1a1a1a" stroke-width="0.2">0 h</text>
<text x="147.0" y="375.2" font-size="10.3" font-weight="bold" text-anchor="middle" fill="#1a1a1a" textLength="18" lengthAdjust="spacingAndGlyphs"  stroke="#1a1a1a" stroke-width="0.2">24 h</text>
<text x="205.0" y="375.2" font-size="10.3" font-weight="bold" text-anchor="middle" fill="#1a1a1a" textLength="18" lengthAdjust="spacingAndGlyphs"  stroke="#1a1a1a" stroke-width="0.2">96 h</text>
<rect x="75.7" y="300.1" width="13.599999999999994" height="58.099999999999966" fill="url(#dots)" stroke="#8a8a8a" stroke-width="0.9"/>
<rect x="89.7" y="301.9" width="14.200000000000003" height="56.30000000000001" fill="url(#hatch)" stroke="#222" stroke-width="0.9"/>
<rect x="133.2" y="351.7" width="13.700000000000017" height="6.5" fill="url(#dots)" stroke="#8a8a8a" stroke-width="0.9"/>
<rect x="146.9" y="294.6" width="14.400000000000006" height="63.599999999999966" fill="url(#hatch)" stroke="#222" stroke-width="0.9"/>
<rect x="191.4" y="333.8" width="13.599999999999994" height="24.399999999999977" fill="url(#dots)" stroke="#8a8a8a" stroke-width="0.9"/>
<rect x="205" y="237.2" width="14.400000000000006" height="121.0" fill="url(#hatch)" stroke="#222" stroke-width="0.9"/>
<line x1="82.5" y1="299.4" x2="82.5" y2="300.8" stroke="#666" stroke-width="0.8" />
<line x1="81.0" y1="299.4" x2="84.0" y2="299.4" stroke="#666" stroke-width="0.8" />
<line x1="81.0" y1="300.8" x2="84.0" y2="300.8" stroke="#666" stroke-width="0.8" />
<line x1="96.8" y1="298.3" x2="96.8" y2="305.5" stroke="#666" stroke-width="0.8" />
<line x1="95.3" y1="298.3" x2="98.3" y2="298.3" stroke="#666" stroke-width="0.8" />
<line x1="95.3" y1="305.5" x2="98.3" y2="305.5" stroke="#666" stroke-width="0.8" />
<line x1="154.1" y1="290.5" x2="154.1" y2="298.7" stroke="#666" stroke-width="0.8" />
<line x1="152.6" y1="290.5" x2="155.6" y2="290.5" stroke="#666" stroke-width="0.8" />
<line x1="152.6" y1="298.7" x2="155.6" y2="298.7" stroke="#666" stroke-width="0.8" />
<line x1="212.2" y1="231" x2="212.2" y2="243.5" stroke="#666" stroke-width="0.8" />
<line x1="210.7" y1="231" x2="213.7" y2="231" stroke="#666" stroke-width="0.8" />
<line x1="210.7" y1="243.5" x2="213.7" y2="243.5" stroke="#666" stroke-width="0.8" />
<line x1="198.2" y1="330.8" x2="198.2" y2="336.8" stroke="#666" stroke-width="0.8" />
<line x1="196.7" y1="330.8" x2="199.7" y2="330.8" stroke="#666" stroke-width="0.8" />
<line x1="196.7" y1="336.8" x2="199.7" y2="336.8" stroke="#666" stroke-width="0.8" />
<line x1="140" y1="351" x2="140" y2="352.4" stroke="#666" stroke-width="0.8" />
<line x1="138.5" y1="351" x2="141.5" y2="351" stroke="#666" stroke-width="0.8" />
<line x1="138.5" y1="352.4" x2="141.5" y2="352.4" stroke="#666" stroke-width="0.8" />
<path d="M140.5 347.4 L140.5 276.3 L155.3 276.3 L155.3 283.6" fill="none" stroke="#7a7a7a" stroke-width="1"/>
<path d="M198.2 330.6 L198.2 216.2 L212 216.2 L212 224.2" fill="none" stroke="#7a7a7a" stroke-width="1"/>
<path d="M148.40 266.00 L148.40 271.80 M145.89 267.45 L150.91 270.35 M145.89 270.35 L150.91 267.45" stroke="#111" stroke-width="1.3" stroke-linecap="round"/>
<circle cx="148.4" cy="268.9" r="1.1" fill="#111"/>
<path d="M205.00 207.30 L205.00 213.10 M202.49 208.75 L207.51 211.65 M202.49 211.65 L207.51 208.75" stroke="#111" stroke-width="1.3" stroke-linecap="round"/>
<circle cx="205" cy="210.2" r="1.1" fill="#111"/>
<text x="252.0" y="208.3" font-size="14" font-weight="normal" text-anchor="start" fill="#1a1a1a" textLength="16.6" lengthAdjust="spacingAndGlyphs" >(E)</text>
<text x="290.9" y="206.9" font-size="9.8" font-weight="bold" text-anchor="middle" fill="#1a1a1a" textLength="18" lengthAdjust="spacingAndGlyphs"  stroke="#1a1a1a" stroke-width="0.15">0 hr</text>
<line x1="257.8" y1="213.1" x2="318.9" y2="213.1" stroke="#111" stroke-width="2" />
<text x="405.1" y="206.1" font-size="11" font-weight="normal" text-anchor="middle" fill="#1a1a1a" textLength="28.2" lengthAdjust="spacingAndGlyphs"  stroke="#1a1a1a" stroke-width="0.3">24 hrs</text>
<line x1="329.9" y1="212.6" x2="454.1" y2="212.6" stroke="#111" stroke-width="2" />
<text x="287.2" y="227.0" font-size="8.5" font-weight="normal" text-anchor="middle" fill="#222" textLength="37" lengthAdjust="spacingAndGlyphs"  stroke="#222" stroke-width="0.15">DR5::GUS</text>
<text x="356.5" y="227.2" font-size="8.5" font-weight="normal" text-anchor="middle" fill="#222" textLength="53" lengthAdjust="spacingAndGlyphs"  stroke="#222" stroke-width="0.15">DR5::GUS/WT</text>
<text x="421.8" y="227.0" font-size="8.5" font-weight="normal" text-anchor="middle" fill="#222" textLength="58.7" lengthAdjust="spacingAndGlyphs"  stroke="#222" stroke-width="0.15">DR5::GUS/iaaM</text>
<rect x="271.4" y="232.9" width="46.6" height="135.8" fill="url(#gTis1)"/>
<path d="M284.5 237.5 L310 237.5 Q313 270 313.5 300 Q316.5 318 316.3 330 L313.4 345 L311.8 362 L305 366.5 Q296 350 291.6 336.5 Q285 322 282.7 312 L281.4 300 Q282.5 265 284.5 237.5 Z" fill="url(#gT1)" filter="url(#blur05)"/>
<rect x="333" y="232.9" width="43.2" height="135.8" fill="#eef1ee"/>
<path d="M337.6 236.5 L372.4 236.5 L372 300 L370 318 L356.5 365.5 L355 365.5 L341 318 L338 300 Z" fill="url(#gTip2)" filter="url(#blur05)"/>
<path d="M337.6 236.5 L343.5 236.5 L344 318 L354 360 L341 318 Z" fill="#dfe8e6" opacity="0.8" filter="url(#blur1)"/>
<path d="M366.5 236.5 L372.4 236.5 L372 300 L370 318 L358 360 L367 318 Z" fill="#e3eae4" opacity="0.8" filter="url(#blur1)"/>
<path d="M344.5 238 L356 238 L355 320 L346 320 Z" fill="#d2d6a2" opacity="0.55" filter="url(#blur2)"/>
<path d="M341 318 L370.5 318 L356.5 365.5 L355 365.5 Z" fill="url(#gBlue2)" filter="url(#blur05)"/>
<rect x="400.3" y="234" width="43" height="134.7" fill="#edf1ee"/>
<path d="M404.7 240 L412.2 240 L413 300 L416 330 L409 320 L404.7 295 Z" fill="#dbe9eb" filter="url(#blur1)"/>
<path d="M412.2 239.2 L432.5 239.2 L433 300 L432 318 L422 364 L420.5 364 L414.5 330 L412.6 300 Z" fill="url(#gTip3)" filter="url(#blur05)"/>
<path d="M414 318 L432.5 318 L422 364 L420.5 364 Z" fill="url(#gBlue3)" filter="url(#blur05)"/>
<path d="M415.5 330 L420.8 362 M431 326 L422 362" stroke="url(#gBlue3s)" stroke-width="2.4" fill="none" filter="url(#blur05)"/>
</svg>
</body></html>
